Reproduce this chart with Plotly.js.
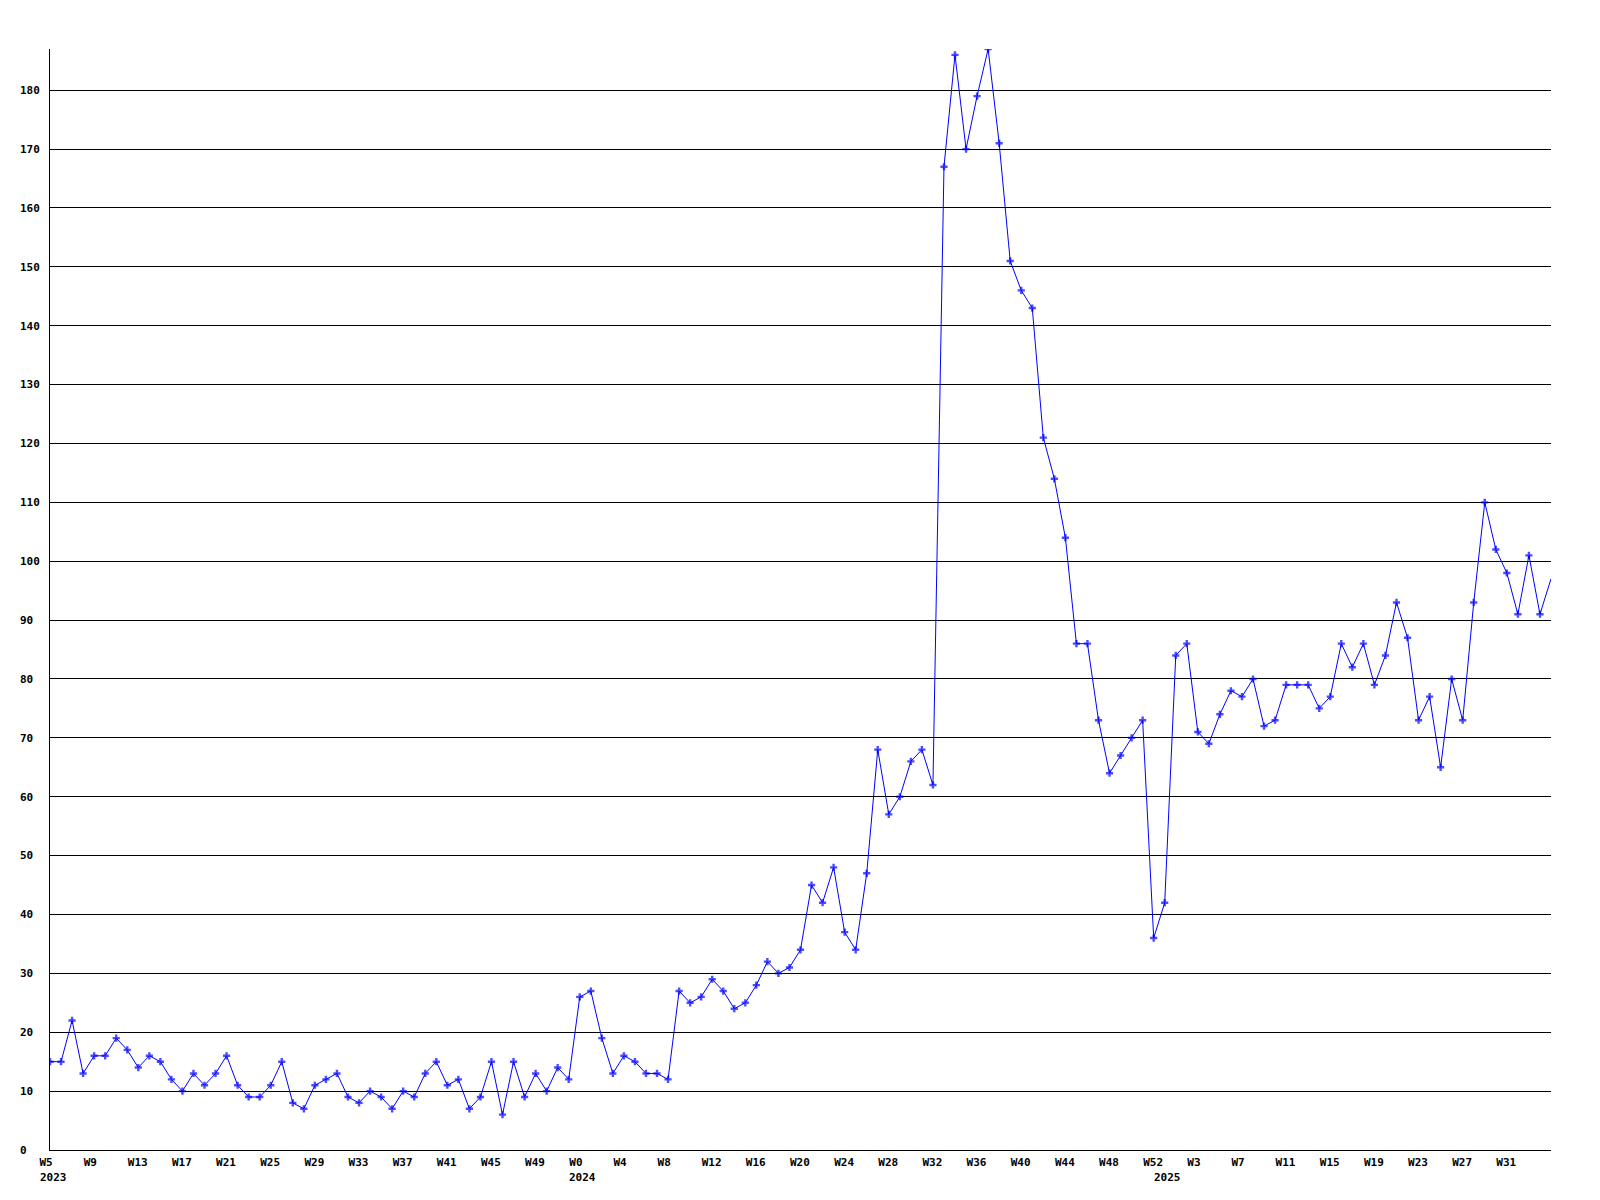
<!DOCTYPE html>
<html>
<head>
<meta charset="utf-8">
<script src="https://cdn.plot.ly/plotly-3.0.1.min.js"></script>
<style>
  html, body { margin: 0; padding: 0; background: #fff; }
  #chart { width: 1600px; height: 1200px; }
</style>
</head>
<body>
<div id="chart"></div>
<script>
// Weekly counts, 2023 W5 .. W52
const values2023 = [15, 15, 22, 13, 16, 16, 19, 17, 14, 16, 15, 12, 10, 13, 11, 13, 16, 11, 9, 9,
  11, 15, 8, 7, 11, 12, 13, 9, 8, 10, 9, 7, 10, 9, 13, 15, 11, 12, 7, 9,
  15, 6, 15, 9, 13, 10, 14, 12];
// 2024 W0 .. W52
const values2024 = [26, 27, 19, 13, 16, 15, 13, 13, 12, 27, 25, 26, 29, 27, 24, 25, 28, 32, 30, 31,
  34, 45, 42, 48, 37, 34, 47, 68, 57, 60, 66, 68, 62, 167, 186, 170, 179, 187, 171, 151,
  146, 143, 121, 114, 104, 86, 86, 73, 64, 67, 70, 73, 36];
// 2025 W0 .. W35
const values2025 = [42, 84, 86, 71, 69, 74, 78, 77, 80, 72, 73, 79, 79, 79, 75, 77, 86, 82, 86, 79,
  84, 93, 87, 73, 77, 65, 80, 73, 93, 110, 102, 98, 91, 101, 91, 97];

// Week tick labels, one every 4 weeks starting at the first week
const tickLabels = ['W5', 'W9', 'W13', 'W17', 'W21', 'W25', 'W29', 'W33', 'W37', 'W41', 'W45', 'W49',
  'W0', 'W4', 'W8', 'W12', 'W16', 'W20', 'W24', 'W28', 'W32', 'W36', 'W40', 'W44', 'W48', 'W52',
  'W3', 'W7', 'W11', 'W15', 'W19', 'W23', 'W27', 'W31'];
const years = ['2023', '2024', '2025'];
const yTicks = [0, 10, 20, 30, 40, 50, 60, 70, 80, 90, 100, 110, 120, 130, 140, 150, 160, 170, 180];

const yearSeries = [values2023, values2024, values2025];
const values = [].concat(values2023, values2024, values2025);
const xs = values.map((_, i) => i);
const lastIdx = values.length - 1;

// first-point index of each year
const yearStart = [];
let acc = 0;
yearSeries.forEach(s => { yearStart.push(acc); acc += s.length; });

const tickVals = tickLabels.map((_, i) => i * 4);

// left-align the y labels (monospace font): pad to 3 characters on the right
const yTickText = yTicks.map(v => {
  const s = String(v);
  return s + '\u00a0'.repeat(3 - s.length);
});

const fontFam = '"DejaVu Sans Mono", "Liberation Mono", monospace';
const tickFont = { family: fontFam, size: 11, color: '#000', weight: 'bold' };

const trace = {
  x: xs,
  y: values,
  type: 'scatter',
  mode: 'lines+markers',
  line: { color: '#0000ff', width: 1 },
  marker: {
    color: '#0000ff',
    symbol: 'cross',
    size: xs.map(i => (i === lastIdx ? 0 : 6)),
    line: { width: 0 }
  },
  cliponaxis: true,
  hoverinfo: 'x+y'
};

const annotations = years.map((yr, k) => ({
  text: yr,
  x: yearStart[k],
  xref: 'x',
  y: 0,
  yref: 'paper',
  yanchor: 'top',
  xanchor: 'center',
  xshift: 3,
  yshift: -19,
  showarrow: false,
  font: tickFont
}));

const layout = {
  width: 1600,
  height: 1200,
  margin: { l: 50, r: 49, t: 49, b: 50, pad: 0 },
  paper_bgcolor: '#ffffff',
  plot_bgcolor: '#ffffff',
  showlegend: false,
  font: tickFont,
  xaxis: {
    range: [0, lastIdx],
    tickmode: 'array',
    tickvals: tickVals,
    ticktext: tickLabels,
    showgrid: false,
    zeroline: false,
    showline: true,
    linecolor: '#000',
    linewidth: 1,
    ticks: '',
    ticklabelposition: 'outside right',
    ticklabelshift: -11,
    ticklabelstandoff: 2,
    tickfont: tickFont,
    fixedrange: true
  },
  yaxis: {
    range: [0, 187],
    tickmode: 'array',
    tickvals: yTicks,
    ticktext: yTickText,
    showgrid: true,
    gridcolor: '#000',
    gridwidth: 1,
    zeroline: false,
    showline: true,
    linecolor: '#000',
    linewidth: 1,
    ticks: '',
    ticklabelstandoff: 7,
    tickfont: tickFont,
    fixedrange: true
  },
  annotations: annotations
};

Plotly.newPlot('chart', [trace], layout, { displayModeBar: false, staticPlot: true });
</script>
</body>
</html>
